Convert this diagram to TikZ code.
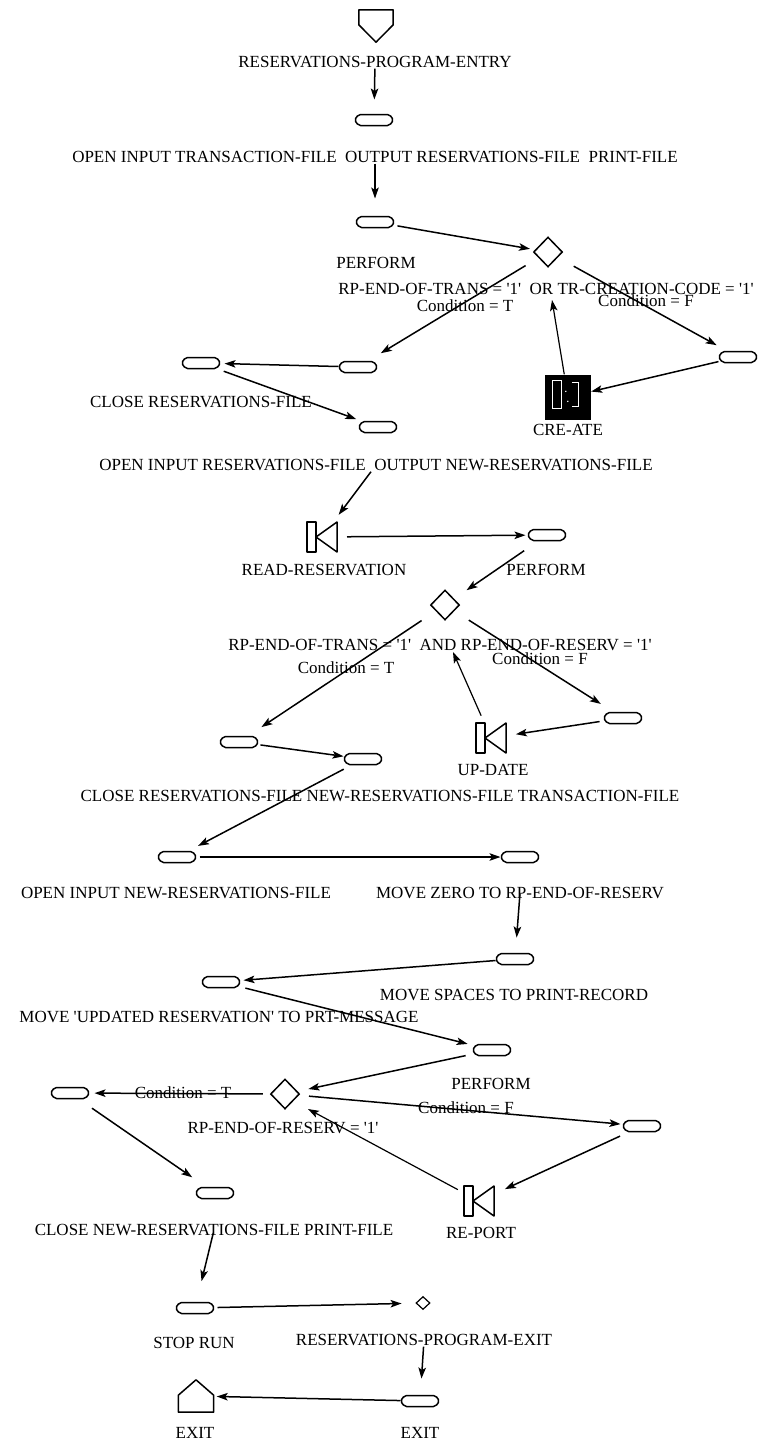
\documentclass[tikz,border=0pt]{standalone}
\usepackage{fontspec}
\setmainfont{Liberation Serif}
\usetikzlibrary{arrows.meta,shapes.geometric}
\newcommand{\sqt}{\textquotesingle}
\begin{document}
\begin{tikzpicture}[x=1pt,y=-1pt]
\tikzset{
  txt/.style={font=\fontsize{17}{18}\selectfont, inner sep=1pt, text height=11pt, text depth=0pt},
  proc/.style={minimum width=39pt, minimum height=11pt, inner sep=0pt, outer sep=0pt},
  dec/.style={diamond, draw, line width=1.5pt, minimum width=29pt, minimum height=30pt, inner sep=0pt},
  blk/.style={minimum width=30pt, minimum height=30pt, inner sep=0pt, outer sep=0pt},
  outline/.style={line width=1.5pt, line join=round},
  flow/.style={line width=1.5pt, -{Stealth[length=11pt,width=7.5pt,inset=2.5pt]}},
  back/.style={line width=1.2pt, -{Stealth[length=11pt,width=7.5pt,inset=2.5pt]}},
}
\fill[white] (0,0) rectangle (762,1446);
\useasboundingbox (0,0) rectangle (762,1446);

% ---------- program entry ----------
\node[minimum width=34pt, minimum height=32pt, inner sep=0pt] (entry) at (376,26) {};
\draw[outline] (entry.north west) -- (entry.north east) -- ([yshift=-15pt]entry.north east)
  -- (entry.south) -- ([yshift=-15pt]entry.north west) -- cycle;
\node[txt] (lblEntry) at (375,62) {RESERVATIONS-PROGRAM-ENTRY};

\node[proc] (p1) at (374,120) {};
\node[txt] (lbl1) at (375,157) {OPEN INPUT TRANSACTION-FILE\ \ OUTPUT RESERVATIONS-FILE\ \ PRINT-FILE};

\node[proc] (p2) at (375,222) {};
\node[txt] (lblPerf1) at (376,263) {PERFORM};

% ---------- first loop ----------
\node[dec] (d1) at (548,252) {};
\node[txt] (cond1) at (546,289) {RP-END-OF-TRANS = \sqt1\sqt\ \ OR TR-CREATION-CODE = \sqt1\sqt};
\node[txt] (condT1) at (465,306) {Condition = T};
\node[txt] (condF1) at (646,301) {Condition = F};

\node[proc] (p3) at (358,367) {};
\node[proc] (p5) at (201,363) {};
\node[txt] (lblClose1) at (201,402) {CLOSE RESERVATIONS-FILE};
\node[proc] (p6) at (378,427) {};
\node[proc] (p4) at (738,357) {};

\node[fill=black, minimum width=46pt, minimum height=45pt, inner sep=0pt] (create) at (568,397) {};
\draw[white, line width=1pt] ([xshift=8pt,yshift=-6pt]create.north west) rectangle ([xshift=17pt,yshift=-34pt]create.north west);
\draw[white, line width=1pt] ([xshift=27pt,yshift=-8pt]create.north west) -- ([xshift=34pt,yshift=-8pt]create.north west)
  -- ([xshift=34pt,yshift=-32pt]create.north west) -- ([xshift=27pt,yshift=-32pt]create.north west);
\fill[white] ([xshift=21pt,yshift=-17pt]create.north west) circle (0.8pt)
             ([xshift=23pt,yshift=-27pt]create.north west) circle (0.8pt);
\node[txt] (lblCreate) at (568,430) {CRE-ATE};

\node[txt] (lbl2) at (376,465) {OPEN INPUT RESERVATIONS-FILE\ \ OUTPUT NEW-RESERVATIONS-FILE};

% ---------- second loop ----------
\node[blk] (k1) at (322,537) {};
\node[txt] (lblRead) at (324,570) {READ-RESERVATION};
\node[proc] (p7) at (547,535) {};
\node[txt] (lblPerf2) at (546,570) {PERFORM};

\node[dec] (d2) at (445,605) {};
\node[txt] (cond2) at (440,645) {RP-END-OF-TRANS = \sqt1\sqt\ \ AND RP-END-OF-RESERV = \sqt1\sqt};
\node[txt] (condT2) at (346,668) {Condition = T};
\node[txt] (condF2) at (540,659) {Condition = F};

\node[proc] (p8) at (239,742) {};
\node[proc] (p9) at (623,718) {};
\node[blk] (k2) at (491,738) {};
\node[txt] (lblUpdate) at (493,770) {UP-DATE};
\node[proc] (p10) at (363,759) {};
\node[txt] (lblClose2) at (380,796) {CLOSE RESERVATIONS-FILE NEW-RESERVATIONS-FILE TRANSACTION-FILE};

% ---------- report section ----------
\node[proc] (p11) at (177,857) {};
\node[proc] (p12) at (520,857) {};
\node[txt] (lblOpen3) at (176,893) {OPEN INPUT NEW-RESERVATIONS-FILE};
\node[txt] (lblMoveZero) at (520,893) {MOVE ZERO TO RP-END-OF-RESERV};
\node[proc] (p13) at (515,959) {};
\node[proc] (p14) at (221,982) {};
\node[txt] (lblMoveSpaces) at (514,995) {MOVE SPACES TO PRINT-RECORD};
\node[txt] (lblMoveUpd) at (219,1017) {MOVE \sqt UPDATED RESERVATION\sqt\ TO PRT-MESSAGE};
\node[proc] (p15) at (492,1050) {};
\node[txt] (lblPerf3) at (491,1084) {PERFORM};

\node[dec] (d3) at (285,1094) {};
\node[proc] (p16) at (70,1093) {};
\node[txt] (condT3) at (183,1093) {Condition = T};
\node[txt] (condF3) at (466,1108) {Condition = F};
\node[txt] (cond3) at (283,1128) {RP-END-OF-RESERV = \sqt1\sqt};
\node[proc] (p17) at (642,1126) {};
\node[blk] (k3) at (479,1201) {};
\node[txt] (lblReport) at (481,1233) {RE-PORT};
\node[proc] (p18) at (215,1193) {};
\node[txt] (lblClose3) at (214,1230) {CLOSE NEW-RESERVATIONS-FILE PRINT-FILE};

% ---------- program exit ----------
\node[proc] (p19) at (195,1308) {};
\node[dec, minimum width=14pt, minimum height=13pt, line width=1.2pt] (sd) at (423,1303) {};
\node[txt] (lblStop) at (194,1343) {STOP RUN};
\node[txt] (lblExit0) at (424,1340) {RESERVATIONS-PROGRAM-EXIT};
\node[proc] (p20) at (420,1401) {};
\node[minimum width=35pt, minimum height=32pt, inner sep=0pt] (exitp) at (196,1396) {};
\draw[outline] (exitp.south west) -- (exitp.south east) -- ([yshift=17pt]exitp.south east)
  -- (exitp.north) -- ([yshift=17pt]exitp.south west) -- cycle;
\node[txt] (lblExit1) at (195,1433) {EXIT};
\node[txt] (lblExit2) at (420,1433) {EXIT};

% ---------- outlines of the statement boxes and block symbols ----------
\foreach \n in {p1,p2,p3,p4,p5,p6,p7,p8,p9,p10,p11,p12,p13,p14,p15,p16,p17,p18,p19,p20} {
  \draw[outline, rounded corners=2pt] (\n.west) -- ([xshift=4pt]\n.north west) -- ([xshift=-4pt]\n.north east)
    -- (\n.east) -- ([xshift=-4pt]\n.south east) -- ([xshift=4pt]\n.south west) -- cycle;
}
\foreach \n in {k1,k2,k3} {
  \draw[outline] (\n.north west) rectangle ([xshift=9pt]\n.south west);
  \draw[outline] ([xshift=9pt]\n.west) -- (\n.north east) -- (\n.south east) -- cycle;
}

% ---------- connectors ----------
\coordinate (c1tip) at (552,300);
\coordinate (c2tip) at (453,652);
\coordinate (c3tip) at (308,1109);

\draw[flow, shorten >=15pt] (lblEntry) -- (p1);
\draw[flow, shorten >=18pt] (lbl1) -- (p2);
\draw[flow, shorten <=3pt, shorten >=5pt] (p2) -- (d1);
\draw[flow, shorten <=15pt, shorten >=16pt] (d1) -- (p3);
\draw[flow, shorten <=18pt, shorten >=13pt] (d1) -- (p4);
\draw[flow] (p4) -- (create);
\draw[back] (create) -- (c1tip);
\draw[flow, shorten >=4pt] (p3) -- (p5);
\draw[flow, shorten <=8pt, shorten >=7pt] (p5) -- (p6);

\draw[flow, shorten >=9pt] (lbl2) -- (k1);
\draw[flow, shorten <=10pt, shorten >=2pt] (k1) -- (p7);
\draw[flow, shorten <=18pt, shorten >=15pt] (p7) -- (d2);
\draw[flow, shorten <=17pt, shorten >=17pt] (d2) -- (p8);
\draw[flow, shorten <=17pt, shorten >=16pt] (d2) -- (p9);
\draw[flow, shorten <=4pt, shorten >=10pt] (p9) -- (k2);
\draw[back, shorten <=8pt] (k2) -- (c2tip);
\draw[flow, shorten <=2pt] (p8) -- (p10);
\draw[flow, shorten <=10pt, shorten >=12pt] (p10) -- (p11);

\draw[flow, shorten <=3pt] (p11) -- (p12);
\draw[flow, shorten <=-6pt, shorten >=16pt] (lblMoveZero) -- (p13);
\draw[flow, shorten >=3pt] (p13) -- (p14);
\draw[flow, shorten <=5pt, shorten >=5pt] (p14) -- (p15);
\draw[flow, shorten <=7pt, shorten >=11pt] (p15) -- (d3);
\draw[flow, shorten <=7pt, shorten >=5pt] (d3) -- (p16);
\draw[flow, shorten <=10pt, shorten >=2pt] (d3) -- (p17);
\draw[flow, shorten <=11pt, shorten >=12pt] (p17) -- (k3);
\draw[back, shorten <=7pt] (k3) -- (c3tip);
\draw[flow, shorten <=17pt, shorten >=18pt] (p16) -- (p18);
\draw[flow, shorten <=-4pt, shorten >=22pt] (lblClose3) -- (p19);

\draw[flow, shorten <=3pt, shorten >=14pt] (p19) -- (sd);
\draw[flow, shorten >=17pt] (lblExit0) -- (p20);
\draw[flow, shorten >=3pt] (p20) -- (exitp);
\end{tikzpicture}
\end{document}
